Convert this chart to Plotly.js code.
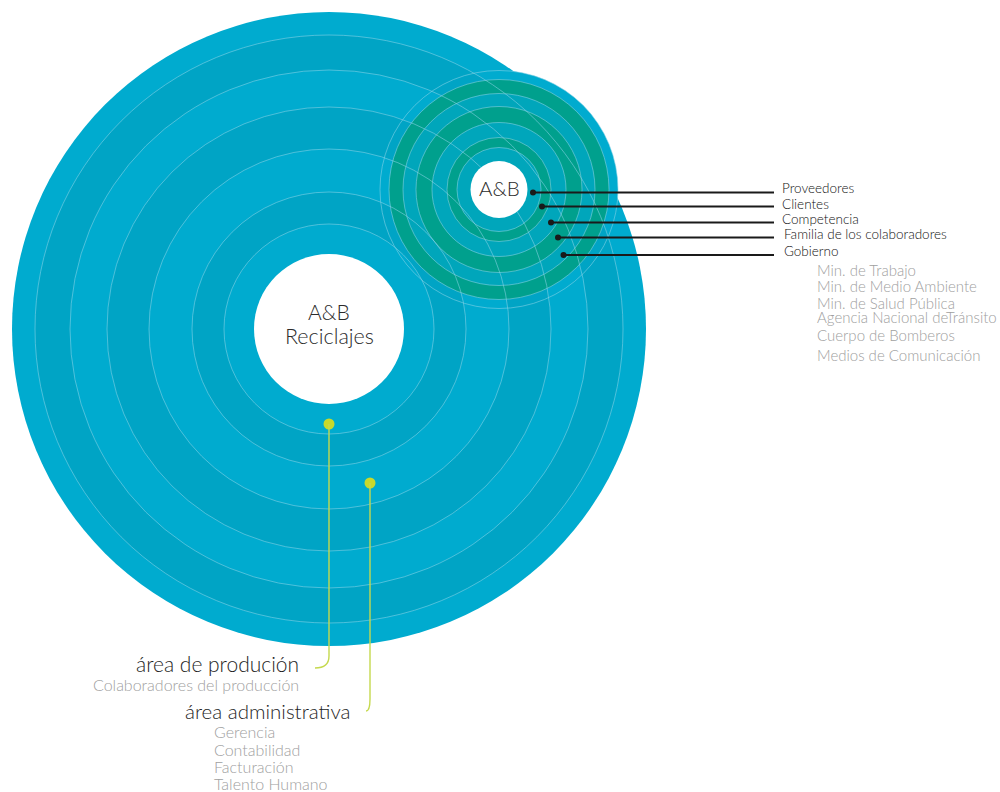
<!DOCTYPE html>
<html>
<head>
<meta charset="utf-8">
<script src="https://cdn.plot.ly/plotly-3.0.1.min.js"></script>
<style>html,body{margin:0;padding:0;background:#fff;}#chart{width:1000px;height:792px;}</style>
</head>
<body>
<div id="chart"></div>
<script>
// ---- data ----
const bigRingRadii = [317, 294, 259, 222, 180, 137, 105];
const bigCoreRadius = 75;
const smallRingRadii = [119, 110, 96, 83, 67, 52, 42];
const smallCoreRadius = 28.5;
const bigCenterLabel = ['A&B', 'Reciclajes'];
const smallCenterLabel = 'A&B';
const stakeholders = ['Proveedores', 'Clientes', 'Competencia', 'Familia de los colaboradores', 'Gobierno'];
const governmentBodies = ['Min. de Trabajo', 'Min. de Medio Ambiente', 'Min. de Salud Pública', 'Agencia Nacional de', 'Cuerpo de Bomberos', 'Medios de Comunicación'];
const governmentOverlap = 'Tránsito';
const internalAreas = ['área de produción', 'área administrativa'];
const productionMembers = ['Colaboradores del producción'];
const adminMembers = ['Gerencia', 'Contabilidad', 'Facturación', 'Talento Humano'];

// ---- layout constants ----
const BIG = {x: 329, y: 329};
const SMALL = {x: 499, y: 189.5};
const bigColors = ['#00ABCF', '#00A4C5'];
const smallColors = ['#00A6BB', '#00A08D'];
const ringLine = 'rgba(140,212,232,0.7)';
const FONT = 'Lato, "Open Sans", sans-serif';
const GRAY = '#a0a0a0';

const shapes = [];
function disc(c, r, fill, lineColor, lw) {
  return {type: 'circle', xref: 'x', yref: 'y', layer: 'below',
    x0: c.x - r, x1: c.x + r, y0: c.y - r, y1: c.y + r,
    fillcolor: fill || 'rgba(0,0,0,0)',
    line: {color: lineColor || 'rgba(0,0,0,0)', width: lw || 0}};
}
// backdrop of the small system
shapes.push(disc(SMALL, smallRingRadii[0], bigColors[0]));
// big system discs
bigRingRadii.forEach((r, i) => shapes.push(disc(BIG, r, bigColors[i % 2])));
shapes.push(disc(BIG, bigCoreRadius, '#ffffff'));
// small system discs (outermost band left open)
smallRingRadii.forEach((r, i) => { if (i > 0) shapes.push(disc(SMALL, r, smallColors[i % 2])); });
// ring boundary lines
bigRingRadii.forEach((r, i) => { if (i > 0) shapes.push(disc(BIG, r, null, ringLine, 0.8)); });
smallRingRadii.forEach((r) => shapes.push(disc(SMALL, r, null, ringLine, 0.8)));
shapes.push(disc(SMALL, smallCoreRadius, '#ffffff'));

// ---- stakeholder leaders ----
const leaderDotX = [533, 542, 551, 558, 563.5];
const leaderY = [192.5, 206.5, 222.5, 237.5, 255];
const leaderEndX = 774;
const labelX = [780, 780, 780, 782, 782];
const labelY = [188, 203.5, 219, 233.5, 251];

const traces = [];
stakeholders.forEach((s, i) => {
  traces.push({x: [leaderDotX[i], leaderEndX], y: [leaderY[i], leaderY[i]], mode: 'lines',
    line: {color: '#1a1a1a', width: 2}, hoverinfo: 'skip', showlegend: false});
});
traces.push({x: leaderDotX, y: leaderY, mode: 'markers', marker: {color: '#1a1a1a', size: 6},
  hoverinfo: 'skip', showlegend: false});

// ---- internal area leaders ----
const areaDotX = [329, 370];
const areaDotY = [424, 483];
const areaLineEndY = [668, 711];
const areaLabelRight = [301, 352];
traces.push({x: areaDotX, y: areaDotY, mode: 'markers', marker: {color: '#C8D92B', size: 11},
  hoverinfo: 'skip', showlegend: false});
areaDotX.forEach((x, i) => {
  const yE = areaLineEndY[i], xE = areaLabelRight[i] + 14;
  shapes.push({type: 'path', xref: 'x', yref: 'y', layer: 'above',
    path: `M ${x} ${areaDotY[i]} L ${x} ${yE - 12} Q ${x} ${yE} ${xE} ${yE}`,
    line: {color: '#C5D94E', width: 1.4}});
});

// ---- annotations ----
const ann = [];
function txt(x, y, text, size, color, anchor, weight) {
  ann.push({x: x, y: y, xref: 'x', yref: 'y', text: text, showarrow: false,
    xanchor: anchor || 'left', yanchor: 'middle',
    font: {family: FONT, size: size, color: color, weight: weight || 300}});
}
txt(BIG.x, 311, bigCenterLabel[0], 21, '#2b2b2b', 'center');
txt(BIG.x, 336, bigCenterLabel[1], 21.5, '#2b2b2b', 'center');
txt(SMALL.x, 188, smallCenterLabel, 20.5, '#2b2b2b', 'center');
stakeholders.forEach((s, i) => txt(labelX[i], labelY[i], s, 13.5, '#111111'));
const govY = [269.5, 286, 302.5, 317, 335, 354.5];
governmentBodies.forEach((g, i) => txt(815, govY[i], g, 15, GRAY));
txt(944, govY[3], governmentOverlap, 15, GRAY);
txt(areaLabelRight[0], 663.5, internalAreas[0], 21, '#1e1e1e', 'right');
txt(areaLabelRight[0], 684, productionMembers[0], 16, GRAY, 'right');
txt(areaLabelRight[1], 711, internalAreas[1], 20.5, '#1e1e1e', 'right');
const admY = [731.5, 749, 766, 783];
adminMembers.forEach((m, i) => txt(212, admY[i], m, 16, GRAY));

Plotly.newPlot('chart', traces, {
  width: 1000, height: 792,
  margin: {l: 0, r: 0, t: 0, b: 0, pad: 0},
  paper_bgcolor: '#ffffff', plot_bgcolor: '#ffffff',
  xaxis: {range: [0, 1000], visible: false, fixedrange: true},
  yaxis: {range: [792, 0], visible: false, fixedrange: true},
  showlegend: false,
  shapes: shapes,
  annotations: ann
}, {displayModeBar: false, staticPlot: true});
</script>
</body>
</html>
